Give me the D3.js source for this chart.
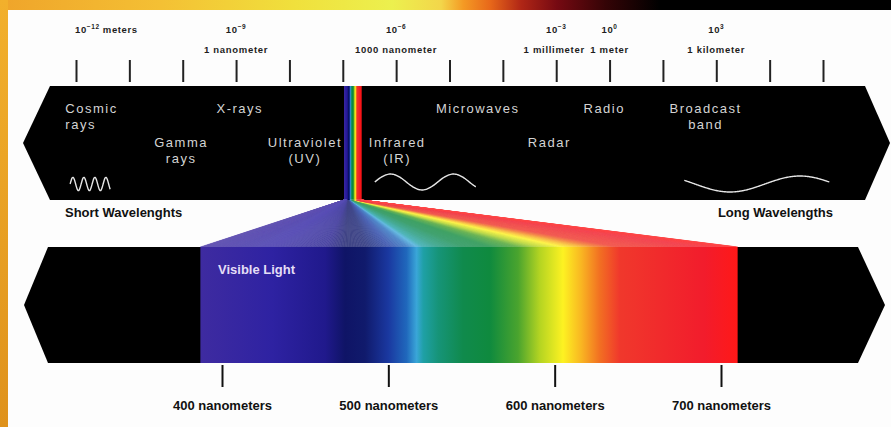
<!DOCTYPE html>
<html>
<head>
<meta charset="utf-8">
<script src="https://cdn.jsdelivr.net/npm/d3@7"></script>
<style>
  body { margin: 0; background: #fff; }
  svg { display: block; }
</style>
</head>
<body>
<div id="chart"></div>
<script>
var width = 891, height = 427;

// ruler across the whole electromagnetic spectrum (one tick per step)
var rulerTicks = [0, 1, 2, 3, 4, 5, 6, 7, 8, 9, 10, 11, 12, 13, 14];
var rulerLabelAt = [0, 3, 6, 9, 10, 12];
var rulerPowers = ["\u221212", "\u22129", "\u22126", "\u22123", "0", "3"];
var rulerUnits = ["meters", "1 nanometer", "1000 nanometer", "1 millimeter", "1 meter", "1 kilometer"];

// band names in the upper band, placed in ruler units
var bandLines = [["Cosmic", "rays"], ["X-rays"], ["Gamma", "rays"], ["Ultraviolet", "(UV)"],
                 ["Infrared", "(IR)"], ["Microwaves"], ["Radio"], ["Radar"], ["Broadcast", "band"]];
var bandAt = [-0.2, 3.07, 1.97, 4.29, 6.02, 7.53, 9.9, 8.87, 11.8];
var bandRow = [0, 0, 1, 1, 1, 0, 0, 1, 0];
var bandAnchor = ["start", "middle", "middle", "middle", "middle", "middle", "middle", "middle", "middle"];

var visibleTicks = [400, 500, 600, 700];
var spectrumNm = [387, 430, 462, 474, 486, 500, 511, 517, 521, 530, 545, 561, 578, 591, 605, 616, 627, 639, 690, 710];
var spectrumColors = ["#3e2ba0", "#2e22a2", "#20198c", "#0f1466", "#101a6c", "#1a38a0", "#2068bc", "#3aa6d8",
                      "#1fa0a6", "#169478", "#108a4c", "#0f8a3e", "#4aa42e", "#b4d422", "#fdf222", "#f9b622",
                      "#f27022", "#f0382c", "#f21c2c", "#ff1818"];

// side labels of the bottom band
var irUvLines = [["Ultraviolet", "(UV)"], ["Infrared", "(IR)"]];

var svg = d3.select("#chart")
  .append("svg")
  .attr("width", width)
  .attr("height", height);

var defs = svg.append("defs");

// scales
var xRuler = d3.scaleLinear().domain([0, 14]).range([76, 823]);
var xNm = d3.scaleLinear().domain([400, 700]).range([222, 721]);
var xStripe = d3.scaleLinear().domain([387, 710]).range([344, 361]);
var specColor = d3.scaleLinear().domain(spectrumNm).range(spectrumColors).interpolate(d3.interpolateRgb);

var nmMin = spectrumNm[0], nmMax = spectrumNm[spectrumNm.length - 1];

// ---- slide background ----
var topGrad = defs.append("linearGradient").attr("id", "topGrad")
  .attr("x1", 0).attr("x2", 1).attr("y1", 0).attr("y2", 0);
[[0, "#efa42a"], [0.18, "#f4c034"], [0.33, "#f0e03c"], [0.44, "#ecf04e"], [0.495, "#f3d64a"],
 [0.52, "#f49a24"], [0.55, "#e8681a"], [0.585, "#b02616"], [0.625, "#760a12"], [0.68, "#340406"],
 [0.74, "#000"], [1, "#000"]].forEach(function (s) {
  topGrad.append("stop").attr("offset", s[0]).attr("stop-color", s[1]);
});
var leftGrad = defs.append("linearGradient").attr("id", "leftGrad")
  .attr("x1", 0).attr("x2", 0).attr("y1", 0).attr("y2", 1);
leftGrad.append("stop").attr("offset", 0).attr("stop-color", "#f2b02c");
leftGrad.append("stop").attr("offset", 1).attr("stop-color", "#df921c");

svg.append("rect").attr("width", width).attr("height", height).attr("fill", "#fdfdfd");
svg.append("rect").attr("width", width).attr("height", 10).attr("fill", "url(#topGrad)");
svg.append("rect").attr("y", 0).attr("width", 8).attr("height", height).attr("fill", "url(#leftGrad)");

// ---- top ruler ----
var ruler = svg.append("g").attr("transform", "translate(0,60)")
  .call(d3.axisBottom(xRuler).tickValues(rulerTicks).tickSize(22).tickFormat(""));
ruler.select(".domain").remove();
ruler.selectAll(".tick line").attr("stroke", "#222").attr("stroke-width", 2);

var rl = svg.append("g")
  .style("font-family", "'Liberation Sans', Arial, sans-serif")
  .style("font-weight", "bold")
  .style("font-size", "9.5px")
  .attr("fill", "#1e1e1e");

rulerLabelAt.forEach(function (t, i) {
  var txt = rl.append("text")
    .attr("x", i === 0 ? xRuler(t) - 1 : xRuler(t))
    .attr("y", 33)
    .attr("text-anchor", i === 0 ? "start" : "middle")
    .style("letter-spacing", "0.6px");
  txt.append("tspan").text("10");
  txt.append("tspan").attr("dy", -4).style("font-size", "6.5px").text(rulerPowers[i]);
  if (i === 0) {
    txt.append("tspan").attr("dy", 4).text(" " + rulerUnits[i]);
  } else {
    rl.append("text")
      .attr("x", xRuler(t) - (i === 3 ? 2 : 0))
      .attr("y", 53)
      .attr("text-anchor", "middle")
      .style("letter-spacing", "0.7px")
      .text(rulerUnits[i]);
  }
});

// ---- upper band (whole spectrum) ----
var topBand = [[50, 86], [865, 86], [890, 143], [865, 200], [50, 200], [23, 143]];
svg.append("path").attr("d", d3.line()(topBand) + "Z").attr("fill", "#000");

// thin rainbow inside the upper band
var stripeNm = d3.range(nmMin, nmMax, 1);
svg.append("g").selectAll("rect")
  .data(stripeNm)
  .enter()
  .append("rect")
  .attr("x", function (d) { return xStripe(d); })
  .attr("y", 86)
  .attr("width", function (d) { return xStripe(d + 1) - xStripe(d) + 0.3; })
  .attr("height", 114)
  .attr("fill", function (d) { return specColor(d); });

var bl = svg.append("g")
  .style("font-family", "'Liberation Sans', Arial, sans-serif")
  .style("font-size", "13px")
  .style("letter-spacing", "1.5px")
  .attr("fill", "#d4d4d4");

bandLines.forEach(function (lines, i) {
  var y0 = bandRow[i] === 0 ? 113 : 147;
  lines.forEach(function (s, j) {
    bl.append("text")
      .attr("x", xRuler(bandAt[i]))
      .attr("y", y0 + j * 16)
      .attr("text-anchor", bandAnchor[i])
      .text(s);
  });
});

// little waves
var waves = [
  { from: -0.11, to: 0.64, period: 11, amp: 7, cy: 184, start: -0.11, sign: -1 },
  { from: 5.6, to: 7.5, period: 63, amp: 8, cy: 182, start: 5.6, sign: -1 },
  { from: 11.4, to: 14.13, period: 140, amp: 8, cy: 184, start: 11.6, sign: 1 }
];
var waveLine = d3.line().curve(d3.curveBasis);
waves.forEach(function (w) {
  var x0 = xRuler(w.from), x1 = xRuler(w.to), xs = xRuler(w.start);
  var pts = d3.range(x0, x1, 1).map(function (x) {
    return [x, w.cy + w.sign * w.amp * Math.sin(2 * Math.PI * (x - xs) / w.period)];
  });
  svg.append("path").attr("d", waveLine(pts))
    .attr("fill", "none").attr("stroke", "#e6e6e6").attr("stroke-width", 1.4);
});

// ---- fan of light from the rainbow down to the visible strip ----
var fanNm = d3.range(nmMin, nmMax, 1);
svg.append("g").selectAll("path")
  .data(fanNm)
  .enter()
  .append("path")
  .attr("d", function (d) {
    var d2 = Math.min(d + 1, nmMax);
    return d3.line()([[xStripe(d), 200], [xStripe(d2), 200], [xNm(d2), 247], [xNm(d), 247]]) + "Z";
  })
  .attr("fill", function (d) { return d3.interpolateRgb(specColor(d), "#ffffff")(0.2); })
  .attr("stroke", function (d) { return d3.interpolateRgb(specColor(d), "#ffffff")(0.2); })
  .attr("stroke-width", 0.6);

// ---- lower band (visible light) ----
var botBand = [[48, 247], [858, 247], [885, 305], [858, 363], [48, 363], [24, 305]];
svg.append("path").attr("d", d3.line()(botBand) + "Z").attr("fill", "#000");

var visGrad = defs.append("linearGradient").attr("id", "visGrad")
  .attr("gradientUnits", "userSpaceOnUse")
  .attr("x1", xNm(nmMin)).attr("x2", xNm(nmMax)).attr("y1", 0).attr("y2", 0);
visGrad.selectAll("stop")
  .data(spectrumNm)
  .enter()
  .append("stop")
  .attr("offset", function (d) { return (d - nmMin) / (nmMax - nmMin); })
  .attr("stop-color", function (d, i) { return spectrumColors[i]; });

svg.append("rect")
  .attr("x", xNm(nmMin))
  .attr("y", 247)
  .attr("width", xNm(nmMax) - xNm(nmMin))
  .attr("height", 116)
  .attr("fill", "url(#visGrad)");

svg.append("text")
  .attr("x", 218)
  .attr("y", 274)
  .style("font-family", "'Liberation Sans', Arial, sans-serif")
  .style("font-weight", "bold")
  .style("font-size", "13px")
  .attr("fill", "#e4def6")
  .text("Visible Light");

var sideX = [126, 787];
irUvLines.forEach(function (lines, i) {
  lines.forEach(function (s, j) {
    bl.append("text")
      .attr("x", sideX[i])
      .attr("y", 300 + j * 16)
      .attr("text-anchor", "middle")
      .text(s);
  });
});

// wavelength axis under the visible strip
var nmAxis = svg.append("g").attr("transform", "translate(0,365)")
  .call(d3.axisBottom(xNm).tickValues(visibleTicks).tickSize(22).tickPadding(14)
    .tickFormat(function (d) { return d + " nanometers"; }));
nmAxis.select(".domain").remove();
nmAxis.selectAll(".tick line").attr("stroke", "#111").attr("stroke-width", 2);
nmAxis.selectAll(".tick text")
  .attr("fill", "#111")
  .style("font-family", "'Liberation Sans', Arial, sans-serif")
  .style("font-weight", "bold")
  .style("font-size", "13px");

// short / long labels
var sl = svg.append("g")
  .style("font-family", "'Liberation Sans', Arial, sans-serif")
  .style("font-weight", "bold")
  .style("font-size", "13px")
  .attr("fill", "#111");
sl.append("text").attr("x", 65).attr("y", 217).text("Short Wavelenghts");
sl.append("text").attr("x", 833).attr("y", 217).attr("text-anchor", "end").text("Long Wavelengths");
</script>
</body>
</html>
